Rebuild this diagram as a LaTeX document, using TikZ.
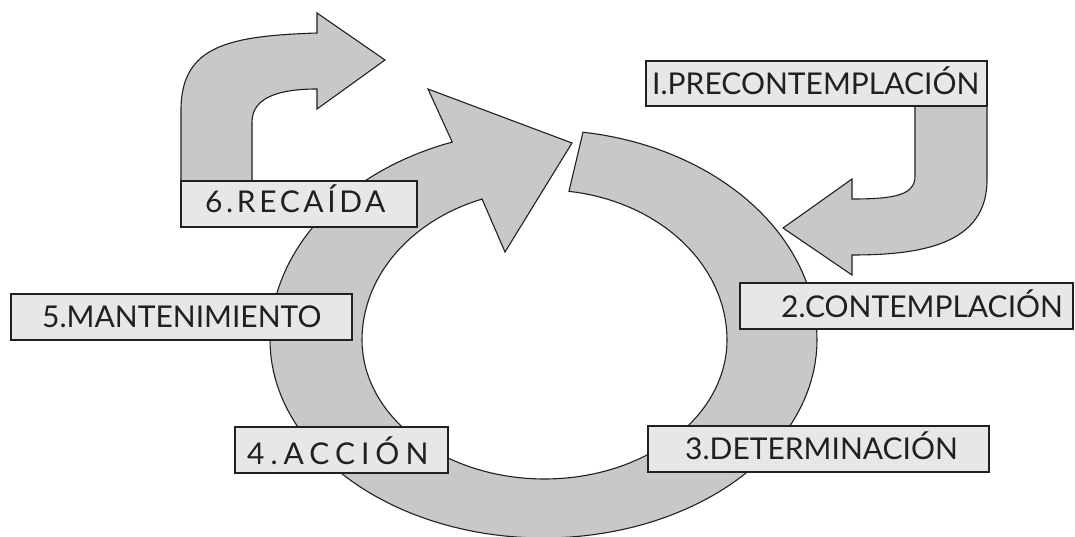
\documentclass[tikz,border=0pt]{standalone}
\usepackage{fontspec}
\setmainfont{Lato}
\definecolor{ringfill}{HTML}{C7C8CA}
\definecolor{boxfill}{HTML}{E6E7E8}
\definecolor{ink}{HTML}{231F20}
\begin{document}
\begin{tikzpicture}[x=1pt,y=-1pt,
  shapestyle/.style={fill=ringfill,draw=ink,line width=1.1pt,line join=miter},
  boxstyle/.style={rectangle,fill=boxfill,draw=ink,line width=1.1pt,inner sep=0pt,minimum height=46pt},
  lbl/.style={inner sep=0pt,anchor=base west,text=ink,font=\fontsize{30}{36}\selectfont},
  spaced/.style={font=\fontsize{30}{36}\selectfont\addfontfeature{LetterSpace=12}},
  wide/.style={font=\fontsize{30}{36}\selectfont\addfontfeature{LetterSpace=20}}]
\useasboundingbox (0,0) rectangle (1075,537);
% ring arrow: outer edge (clockwise), arrowhead, inner edge (back)
\draw[shapestyle]
  plot[domain=81.7:0,samples=40] ({543.5+273.5*cos(\x)},{340-210*sin(\x)})
  -- plot[domain=0:-180,samples=80] ({543.5+273.5*cos(\x)},{340-198*sin(\x)})
  -- plot[domain=180:109.5,samples=40] ({543.5+273.5*cos(\x)},{340-210*sin(\x)})
  -- (428,89) -- (572,143) -- (505,252)
  -- plot[domain=110:180,samples=40] ({544.5+182.5*cos(\x)},{340-150*sin(\x)})
  -- plot[domain=180:360,samples=80] ({544.5+182.5*cos(\x)},{340-139*sin(\x)})
  -- plot[domain=360:442.3,samples=40] ({544.5+182.5*cos(\x)},{340-150*sin(\x)})
  -- cycle;
% relapse arrow
\draw[shapestyle] (181,181) -- (181,110) .. controls (181,45) and (230,36) .. (317,33)
  -- (317,13) -- (385,60) -- (317,109) -- (317,89)
  .. controls (280,89) and (252,97) .. (252,122) -- (252,181) -- cycle;
% precontemplation arrow
\draw[shapestyle] (987,105) -- (987,180) .. controls (987,245) and (920,255) .. (852,255)
  -- (852,275) -- (783,228) -- (852,179) -- (852,199)
  .. controls (895,199) and (915,195) .. (915,176) -- (915,105) -- cycle;
% boxes
\node[boxstyle,minimum width=341pt,minimum height=45pt] (b1) at (816.5,83.5) {};
\node[boxstyle,minimum width=333pt] (b2) at (906.5,306) {};
\node[boxstyle,minimum width=341pt] (b3) at (818.5,449) {};
\node[boxstyle,minimum width=213pt] (b4) at (341.5,450) {};
\node[boxstyle,minimum width=341pt] (b5) at (181.5,317) {};
\node[boxstyle,minimum width=236pt] (b6) at (299,204) {};
% labels
\node[lbl] (t1) at (652,95) {I.PRECONTEMPLACIÓN};
\node[lbl] (t2) at (781,317) {2.CONTEMPLACIÓN};
\node[lbl] (t3) at (685,459) {3.DETERMINACIÓN};
\node[lbl,wide] (t4) at (247,464) {4.ACCIÓN};
\node[lbl] (t5) at (42,327) {5.MANTENIMIENTO};
\node[lbl,spaced] (t6) at (205,213) {6.RECAÍDA};
\end{tikzpicture}
\end{document}
